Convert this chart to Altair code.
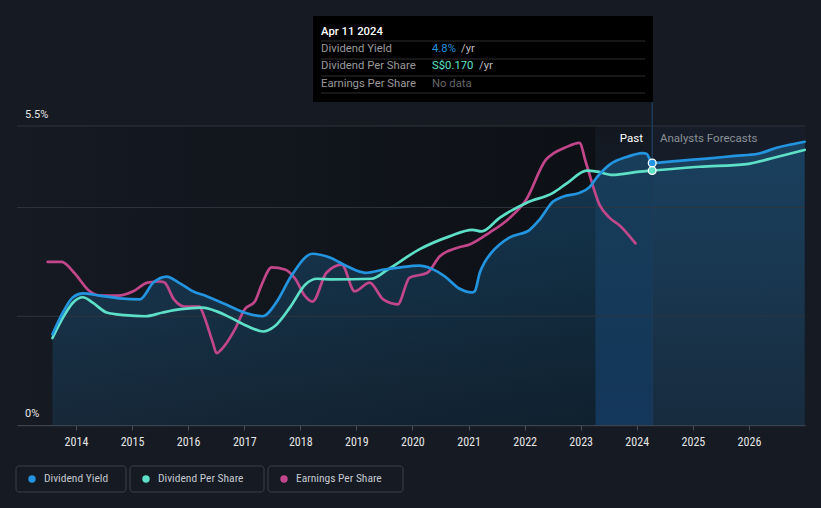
import altair as alt
import pandas as pd

# ---------------- data (y in axis % units) ----------------
dy_dates = ["2013-08-01", "2013-10-08", "2013-12-12", "2014-02-15", "2014-06-05", "2014-10-13",
            "2015-02-21", "2015-05-20", "2015-08-15", "2015-11-01", "2016-02-01", "2016-05-01",
            "2016-09-01", "2017-01-01", "2017-05-01", "2017-08-01", "2017-11-01", "2018-03-22",
            "2018-07-12", "2018-11-01", "2019-03-01", "2019-07-01", "2019-10-15", "2020-02-15",
            "2020-05-01", "2020-08-01", "2020-11-01", "2021-01-20", "2021-02-10", "2021-03-15",
            "2021-04-15", "2021-05-30", "2021-07-22", "2021-09-26", "2022-02-03", "2022-04-09",
            "2022-07-05", "2022-09-07", "2022-12-24", "2023-03-01", "2023-04-15", "2023-07-09",
            "2023-10-27", "2024-02-09", "2024-03-05", "2024-04-11", "2024-10-01", "2025-04-01",
            "2025-10-01", "2026-03-01", "2026-07-01", "2026-12-30"]
dy_vals = [1.67, 2.07, 2.35, 2.42, 2.38, 2.33,
           2.31, 2.62, 2.73, 2.62, 2.46, 2.37,
           2.22, 2.07, 2.00, 2.27, 2.73, 3.15,
           3.08, 2.92, 2.80, 2.86, 2.90, 2.93,
           2.88, 2.73, 2.51, 2.44, 2.46, 2.80,
           2.99, 3.17, 3.32, 3.45, 3.59, 3.78,
           4.11, 4.20, 4.27, 4.38, 4.55, 4.79,
           4.93, 5.00, 4.99, 4.82, 4.86, 4.90,
           4.95, 4.99, 5.10, 5.21]

dps_dates = ["2013-08-01", "2013-10-01", "2013-12-12", "2014-02-15", "2014-04-20", "2014-07-20",
             "2014-11-15", "2015-03-28", "2015-07-20", "2015-11-15", "2016-04-05", "2016-07-05",
             "2016-09-30", "2017-01-20", "2017-05-05", "2017-07-20", "2017-10-25", "2018-02-05",
             "2018-04-20", "2018-08-01", "2019-04-10", "2019-07-25", "2020-02-15", "2020-08-30",
             "2021-01-25", "2021-03-27", "2021-07-22", "2022-01-15", "2022-07-05", "2022-10-05",
             "2023-02-10", "2023-04-20", "2023-07-27", "2024-01-19", "2024-04-11", "2025-02-14",
             "2025-12-17", "2026-07-01", "2026-12-30"]
dps_vals = [1.60, 1.94, 2.25, 2.35, 2.25, 2.07,
            2.02, 2.00, 2.07, 2.13, 2.16, 2.09,
            1.98, 1.82, 1.72, 1.82, 2.16, 2.59,
            2.69, 2.68, 2.69, 2.86, 3.23, 3.47,
            3.59, 3.56, 3.81, 4.09, 4.27, 4.45,
            4.68, 4.66, 4.60, 4.66, 4.68, 4.75,
            4.80, 4.93, 5.06]

eps_dates = ["2013-07-01", "2013-10-01", "2013-12-20", "2014-04-01", "2014-06-05", "2014-10-01",
             "2015-01-10", "2015-04-12", "2015-07-01", "2015-08-01", "2015-10-01", "2015-12-10",
             "2016-03-17", "2016-04-05", "2016-06-10", "2016-07-05", "2016-08-05", "2016-11-01",
             "2017-01-04", "2017-03-11", "2017-04-20", "2017-06-29", "2017-09-23", "2017-12-01",
             "2018-02-01", "2018-03-22", "2018-06-20", "2018-09-28", "2018-12-21", "2019-03-28",
             "2019-06-25", "2019-09-27", "2019-12-14", "2020-04-08", "2020-06-26", "2020-10-21",
             "2021-01-08", "2021-05-18", "2021-09-26", "2022-01-10", "2022-05-20", "2022-07-10",
             "2022-09-20", "2022-12-24", "2023-02-05", "2023-05-04", "2023-07-09", "2023-09-12",
             "2023-12-24"]
eps_vals = [3.00, 3.00, 2.80, 2.46, 2.38, 2.38,
            2.46, 2.62, 2.64, 2.62, 2.31, 2.18,
            2.18, 2.07, 1.52, 1.32, 1.39, 1.76,
            2.13, 2.27, 2.55, 2.90, 2.86, 2.68,
            2.37, 2.27, 2.80, 2.95, 2.46, 2.62,
            2.31, 2.22, 2.71, 2.80, 3.10, 3.26,
            3.32, 3.54, 3.81, 4.14, 4.88, 5.00,
            5.10, 5.19, 4.82, 4.05, 3.81, 3.67,
            3.34]

series_names = ["Dividend Yield", "Dividend Per Share", "Earnings Per Share"]
series_colors = ["#2394df", "#5ee0c8", "#c2468a"]

year_ticks = list(range(2014, 2027))
grid_values = [2, 4, 5.5]
y_label_values = [0, 5.5]
y_label_texts = ["0%", "5.5%"]

x_start, x_end = "2012-12-13", "2027-01-01"
band_start, today = "2023-04-08", "2024-04-11"
marker_vals = [4.82, 4.68]

tooltip_title = "Apr 11 2024"
tooltip_labels = ["Dividend Yield", "Dividend Per Share", "Earnings Per Share"]
tooltip_values = ["4.8%", "S$0.170", "No data"]
tooltip_suffix = ["/yr", "/yr", ""]

# ---------------- frames ----------------
dy = pd.DataFrame({"date": dy_dates, "v": dy_vals})
dps = pd.DataFrame({"date": dps_dates, "v": dps_vals})
eps = pd.DataFrame({"date": eps_dates, "v": eps_vals})

W, H = 788, 299
FONT = "Roboto"
NARROW = "Roboto Condensed, DejaVu Sans Condensed, Liberation Sans Narrow, Roboto, sans-serif"

xs = alt.Scale(type="utc", domain=[x_start, x_end])
ys = alt.Scale(domain=[0, 5.5], nice=False, zero=True)

XA = alt.Axis(format="%Y", formatType="utc", title=None,
              values=[alt.DateTime(year=y, month=1, date=1, utc=True) for y in year_ticks],
              labelColor="#e6e6e6", labelFont=NARROW, labelFontSize=12, labelPadding=6,
              tickColor="#4a5058", tickSize=5, domainColor="#3c424b", domainWidth=1.5,
              grid=False, labelFlush=False)
XN = lambda f: alt.X(f, scale=xs, axis=XA, title=None)
YN = lambda f: alt.Y(f, scale=ys, axis=None, title=None)

one = pd.DataFrame({"a": [0]})


def vgrad(c0, c1):
    return alt.LinearGradient(gradient="linear", x1=0, x2=0, y1=0, y2=1,
                              stops=[alt.GradientStop(color=c0, offset=0),
                                     alt.GradientStop(color=c1, offset=1)])


# background regions
past_bg = alt.Chart(pd.DataFrame({"s": [x_start], "e": [band_start]})).mark_rect(
    fill=alt.LinearGradient(gradient="linear", x1=0, x2=1, y1=0, y2=0,
                            stops=[alt.GradientStop(color="#151a23", offset=0),
                                   alt.GradientStop(color="#0d1015", offset=1)])
).encode(x=XN("s:T"), x2="e:T", y=alt.value(0), y2=alt.value(H))

band_bg = alt.Chart(pd.DataFrame({"s": [band_start], "e": [today]})).mark_rect(
    fill=vgrad("#13181f", "#112a48")
).encode(x=XN("s:T"), x2="e:T", y=alt.value(0), y2=alt.value(H))

fc_bg = alt.Chart(pd.DataFrame({"s": [today], "e": [x_end]})).mark_rect(
    fill="#161d28"
).encode(x=XN("s:T"), x2="e:T", y=alt.value(0), y2=alt.value(H))

area = alt.Chart(dy).mark_area(
    interpolate="monotone",
    fill=vgrad("rgba(35,148,223,0.30)", "rgba(35,148,223,0.12)")
).encode(x=XN("date:T"), y=YN("v:Q"))

grid = alt.Chart(pd.DataFrame({"g": grid_values})).mark_rule(
    color="#2e343d", strokeWidth=1
).encode(y=YN("g:Q"), x=alt.value(0), x2=alt.value(W))

vline = alt.Chart(pd.DataFrame({"d": [today]})).mark_rule(
    color="#1d3a58", strokeWidth=1.5, clip=False
).encode(x=XN("d:T"), y=alt.value(-24), y2=alt.value(H))


def line(df, color):
    return alt.Chart(df).mark_line(interpolate="monotone", color=color, strokeWidth=2.7,
                                   strokeCap="round").encode(x=XN("date:T"), y=YN("v:Q"))


l_eps = line(eps, series_colors[2])
l_dps = line(dps, series_colors[1])
l_dy = line(dy, series_colors[0])

markers = alt.Chart(pd.DataFrame({"d": [today, today], "v": marker_vals, "c": series_colors[:2]})).mark_point(
    filled=True, size=60, stroke="#ffffff", strokeWidth=1.3, opacity=1, shape="circle"
).encode(x=XN("d:T"), y=YN("v:Q"), fill=alt.Fill("c:N", scale=None, legend=None))

ylabels = alt.Chart(pd.DataFrame({"v": y_label_values, "t": y_label_texts})).mark_text(
    align="left", baseline="middle", dy=-11, color="#e6e6e6", font=FONT, fontSize=11, clip=False
).encode(x=alt.value(8), y=YN("v:Q"), text="t:N")

past_txt = alt.Chart(one).mark_text(text="Past", align="right", baseline="middle", color="#ffffff",
                                    font=FONT, fontSize=11.5).encode(x=alt.value(626), y=alt.value(13))
fc_txt = alt.Chart(one).mark_text(text="Analysts Forecasts", align="left", baseline="middle",
                                  color="#8b9097", font=FONT, fontSize=11.5).encode(x=alt.value(643), y=alt.value(13))

# tooltip box
TF = 11.3
tip_layers = [
    alt.Chart(one).mark_rect(fill="#000000").encode(
        x=alt.value(296), x2=alt.value(636), y=alt.value(-110), y2=alt.value(-24)),
    alt.Chart(one).mark_text(text=tooltip_title, align="left", baseline="middle", color="#ffffff",
                             font=FONT, fontSize=TF, fontWeight=500).encode(x=alt.value(304), y=alt.value(-94)),
]
for sy in [-85, -67, -50, -33]:
    tip_layers.append(alt.Chart(one).mark_rule(color="#2f2f2f", strokeWidth=1).encode(
        x=alt.value(304), x2=alt.value(628), y=alt.value(sy)))
row_y = [-77, -60, -42]
val_colors = [series_colors[0], series_colors[1], "#666666"]
suffix_x = [444, 462, 0]
for i in range(3):
    tip_layers.append(alt.Chart(one).mark_text(text=tooltip_labels[i], align="left", baseline="middle",
                                               color="#9a9a9a", font=FONT, fontSize=TF).encode(
        x=alt.value(304), y=alt.value(row_y[i])))
    tip_layers.append(alt.Chart(one).mark_text(text=tooltip_values[i], align="left", baseline="middle",
                                               color=val_colors[i], font=FONT, fontSize=TF).encode(
        x=alt.value(415), y=alt.value(row_y[i])))
    if tooltip_suffix[i]:
        tip_layers.append(alt.Chart(one).mark_text(text=tooltip_suffix[i], align="left", baseline="middle",
                                                   color="#bdbdbd", font=FONT, fontSize=TF).encode(
            x=alt.value(suffix_x[i]), y=alt.value(row_y[i])))

# custom legend
leg_layers = []
box_x = [(-1, 109), (113, 247), (251, 386)]
for i, name in enumerate(series_names):
    x0, x1 = box_x[i]
    leg_layers.append(alt.Chart(one).mark_rect(fill="#151a23", stroke="#3b414b", strokeWidth=1,
                                               cornerRadius=3).encode(
        x=alt.value(x0), x2=alt.value(x1), y=alt.value(340), y2=alt.value(366)))
    leg_layers.append(alt.Chart(one).mark_point(filled=True, size=55, shape="circle", opacity=1,
                                                color=series_colors[i]).encode(
        x=alt.value(x0 + 16), y=alt.value(353)))
    leg_layers.append(alt.Chart(one).mark_text(text=name, align="left", baseline="middle", color="#c4c8cd",
                                               font=NARROW, fontSize=11.5).encode(
        x=alt.value(x0 + 28), y=alt.value(353)))

chart = alt.layer(
    past_bg, band_bg, fc_bg, area, grid, vline, l_eps, l_dps, l_dy, markers,
    ylabels, past_txt, fc_txt, *tip_layers, *leg_layers
).properties(
    width=W, height=H,
    padding={"left": 17, "top": 126, "right": 16, "bottom": 83},
    autosize=alt.AutoSizeParams(type="none"),
    background="#151a23",
).configure_view(stroke=None)

chart.save("out.html", embed_options={"renderer": "svg", "actions": False})
